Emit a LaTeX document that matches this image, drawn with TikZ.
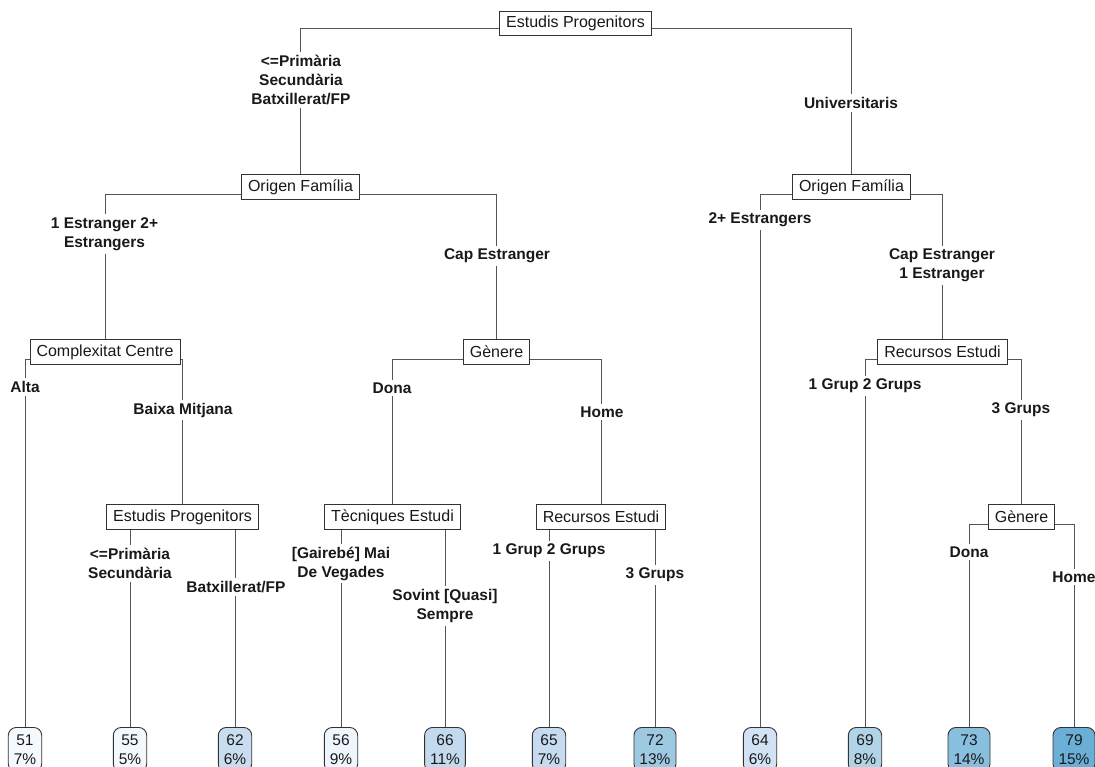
\documentclass[tikz,border=0pt]{standalone}
\usepackage{fontspec}
\setmainfont{Liberation Sans}
\usetikzlibrary{backgrounds}
\definecolor{edgec}{HTML}{555555}
\definecolor{boxc}{HTML}{333333}
\definecolor{lA}{HTML}{F5F9FE}
\definecolor{lB}{HTML}{F3F8FD}
\definecolor{lC}{HTML}{C9DDF0}
\definecolor{lD}{HTML}{EFF5FC}
\definecolor{lE}{HTML}{C3D9EE}
\definecolor{lF}{HTML}{C6DBEF}
\definecolor{lG}{HTML}{9ECAE1}
\definecolor{lH}{HTML}{D0E2F3}
\definecolor{lI}{HTML}{B1D3E8}
\definecolor{lJ}{HTML}{88BEDE}
\definecolor{lK}{HTML}{6BAED6}
\tikzset{
  x=1pt, y=-1pt,
  splitbox/.style={draw=boxc, fill=white, line width=0.9pt, inner xsep=6.5pt, inner ysep=0pt,
    minimum height=24.5pt, font=\fontsize{16}{19}\selectfont, text=black!90},
  leafbox/.style={draw=boxc, line width=0.9pt, rounded corners=8pt, inner xsep=5.5pt, inner ysep=7.5pt,
    align=center, anchor=north, font=\fontsize{15.5}{18.5}\selectfont, text=black!90},
  elabel/.style={fill=white, inner xsep=1pt, inner ysep=3pt, align=center,
    font=\bfseries\fontsize{15.5}{19}\selectfont, text=black!90},
  edge/.style={draw=edgec, line width=0.9pt},
}
\begin{document}
\begin{tikzpicture}
\useasboundingbox (0,0) rectangle (1095,767);
\clip (0,0) rectangle (1095,767);
% split nodes
\node[splitbox] (n1) at (575.5,23.5) {Estudis Progenitors};
\node[splitbox] (n2) at (300.5,187) {Origen Família};
\node[splitbox] (n3) at (105,352) {Complexitat Centre};
\node[splitbox] (n5) at (182.5,517) {Estudis Progenitors};
\node[splitbox] (n8) at (496.5,352) {Gènere};
\node[splitbox] (n9) at (392.5,517) {Tècniques Estudi};
\node[splitbox] (n12) at (601,517) {Recursos Estudi};
\node[splitbox] (n15) at (851.5,187) {Origen Família};
\node[splitbox] (n17) at (942.5,352) {Recursos Estudi};
\node[splitbox] (n19) at (1021.5,517) {Gènere};
% leaves
\node[leafbox, fill=lA] (l4) at (25,727) {51\\7\%};
\node[leafbox, fill=lB] (l6) at (130,727) {55\\5\%};
\node[leafbox, fill=lC] (l7) at (235,727) {62\\6\%};
\node[leafbox, fill=lD] (l10) at (341,727) {56\\9\%};
\node[leafbox, fill=lE] (l11) at (445,727) {66\\11\%};
\node[leafbox, fill=lF] (l13) at (549,727) {65\\7\%};
\node[leafbox, fill=lG] (l14) at (655,727) {72\\13\%};
\node[leafbox, fill=lH] (l16) at (760,727) {64\\6\%};
\node[leafbox, fill=lI] (l18) at (865,727) {69\\8\%};
\node[leafbox, fill=lJ] (l20) at (969,727) {73\\14\%};
\node[leafbox, fill=lK] (l21) at (1074,727) {79\\15\%};
% edges behind boxes
\begin{pgfonlayer}{background}
\path[edge] ([yshift=-5pt]n1.center) -| (n2.north);
\path[edge] ([yshift=-5pt]n1.center) -| (n15.north);
\path[edge] ([yshift=-7pt]n2.center) -| (n3.north);
\path[edge] ([yshift=-7pt]n2.center) -| (n8.north);
\path[edge] ([yshift=-7pt]n3.center) -| (l4.north);
\path[edge] ([yshift=-7pt]n3.center) -| (n5.north);
\path[edge] ([yshift=-7pt]n5.center) -| (l6.north);
\path[edge] ([yshift=-7pt]n5.center) -| (l7.north);
\path[edge] ([yshift=-7pt]n8.center) -| (n9.north);
\path[edge] ([yshift=-7pt]n8.center) -| (n12.north);
\path[edge] ([yshift=-7pt]n9.center) -| (l10.north);
\path[edge] ([yshift=-7pt]n9.center) -| (l11.north);
\path[edge] ([yshift=-7pt]n12.center) -| (l13.north);
\path[edge] ([yshift=-7pt]n12.center) -| (l14.north);
\path[edge] ([yshift=-7pt]n15.center) -| (l16.north);
\path[edge] ([yshift=-7pt]n15.center) -| (n17.north);
\path[edge] ([yshift=-7pt]n17.center) -| (l18.north);
\path[edge] ([yshift=-7pt]n17.center) -| (n19.north);
\path[edge] ([yshift=-7pt]n19.center) -| (l20.north);
\path[edge] ([yshift=-7pt]n19.center) -| (l21.north);
\end{pgfonlayer}
% edge labels
\node[elabel] (e2) at (301,80) {<=Primària\\Secundària\\Batxillerat/FP};
\node[elabel] (e15) at (851,103) {Universitaris};
\node[elabel] (e3) at (104.5,234) {1 Estranger 2+\\Estrangers};
\node[elabel] (e8) at (497,256) {Cap Estranger};
\node[elabel] (e4) at (25,387) {Alta};
\node[elabel] (e5) at (183,410) {Baixa Mitjana};
\node[elabel] (e6) at (130,563.5) {<=Primària\\Secundària};
\node[elabel] (e7) at (236,587) {Batxillerat/FP};
\node[elabel] (e9) at (392,388) {Dona};
\node[elabel] (e12) at (602,412) {Home};
\node[elabel] (e10) at (341,563.5) {[Gairebé] Mai\\De Vegades};
\node[elabel] (e11) at (445,606) {Sovint [Quasi]\\Sempre};
\node[elabel] (e13) at (549,551) {1 Grup 2 Grups};
\node[elabel] (e14) at (655,575) {3 Grups};
\node[elabel] (e16) at (760,220) {2+ Estrangers};
\node[elabel] (e17) at (942,265.5) {Cap Estranger\\1 Estranger};
\node[elabel] (e18) at (865,386) {1 Grup 2 Grups};
\node[elabel] (e19) at (1021,410) {3 Grups};
\node[elabel] (e20) at (969,552) {Dona};
\node[elabel] (e21) at (1074,577) {Home};
\end{tikzpicture}
\end{document}
